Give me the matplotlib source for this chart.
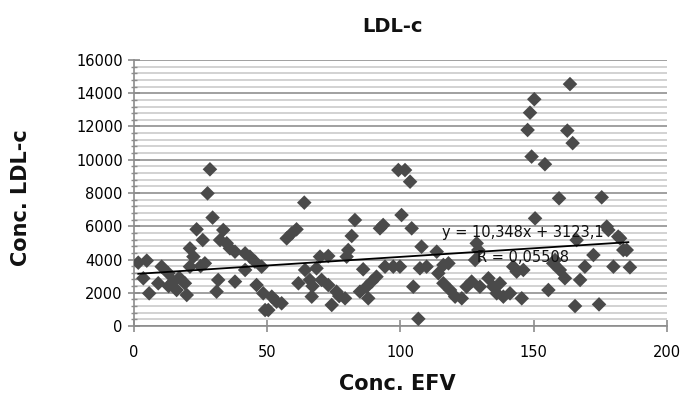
import matplotlib
matplotlib.use("Agg")
import matplotlib.pyplot as plt
from matplotlib.ticker import MultipleLocator

plt.rcParams['font.family'] = ['DejaVu Sans']

efv = [1.6, 4.8, 3.5, 5.7, 10.4, 9.1, 12.9, 14.8, 16, 19.1, 19.8, 21, 22.3, 21, 23.5, 25.8,
       26.6, 27.6, 28.5, 29.5, 31.6, 31, 33.5, 32.3, 34.8, 36, 37.9, 37.9, 41.7, 43.5, 41.7,
       45.4, 47.9, 46, 48.5, 49.2, 25, 13, 17,
       51.7, 50.4, 55.4, 53.5, 57.3, 59.2, 61.0, 63.9, 61.7, 64.2, 66, 66.7, 68.5, 69.8, 70.4,
       72.9, 72.9, 74.2, 76, 79.2, 79.8, 80.4, 81.7, 82.9, 84.8, 86, 87.3, 87.9, 89.2, 91,
       92.3, 93.5, 94.2, 97.3, 99.2, 100.4, 67, 77,
       101.7, 103.6, 104.2, 107.9, 113.6, 99.8, 107.3, 109.8, 104.8, 106.7, 116.1, 118, 114.2,
       116.1, 118.6, 120.5, 123, 124.8, 126.7, 128.6, 129.2, 128, 129.8, 133, 134.8, 137.3,
       136.1, 138.6, 141.1, 145.5, 142.3, 146.1, 143.6, 150.5,
       148.6, 150.2, 147.7, 163.6, 162.6, 164.6, 149.2, 154.2,
       159.5, 175.5, 177.4, 182.4, 184.9, 186.1, 179.9, 172.4, 169.2, 167.4, 166.1, 161.7,
       159.8, 157.3, 155.5, 165.5, 174.5, 158, 181.7, 178, 183.6]
ldl = [3810, 3930, 2870, 1965, 3570, 2570, 3170, 2670, 2165, 2570, 1865, 4670, 4170, 3570,
       5815, 5170, 3770, 7980, 9425, 6520, 2770, 2065, 5775, 5170, 4975, 4670, 4470, 2670,
       4370, 4170, 3370, 3870, 3570, 2465, 1965, 960, 3600, 2400, 2900,
       1765, 960, 1365, 1465, 5270, 5575, 5815, 7420, 2570, 3370, 2770, 1765, 3470, 4170,
       2770, 4210, 2465, 1265, 2065, 1665, 4170, 4570, 5415, 6375, 2065, 3410, 2365, 1665,
       2670, 2965, 5875, 6075, 3570, 3570, 9380, 6675, 2400, 1800,
       9380, 8680, 5875, 4770, 4470, 3570, 3470, 3570, 2365, 430, 3670, 3770, 3170, 2570,
       2165, 1765, 1665, 2365, 2670, 4975, 4570, 3970, 2365, 2870, 2365, 2570, 1965, 1765,
       1965, 1665, 3570, 3370, 3270, 6475,
       12830, 13640, 11790, 14550, 11750, 11000, 10190, 9730,
       7680, 7740, 5975, 5275, 4570, 3530, 3570, 4270, 3570, 2770, 5170, 2870, 3370, 3770,
       2165, 1200, 1300, 3970, 5375, 5775, 4570]

slope = 10.348
intercept = 3123.1
trend_x = [1.6, 185.5]
eq_label = "y = 10,348x + 3123,1"
r_label = "R = 0,05508"

fig = plt.figure(figsize=(6.85, 4.0), dpi=100)
ax = fig.add_axes([0.1956, 0.185, 0.7781, 0.665])

ax.set_xlim(0, 200)
ax.set_ylim(0, 16000)
ax.yaxis.set_major_locator(MultipleLocator(2000))
ax.yaxis.set_minor_locator(MultipleLocator(400))
ax.xaxis.set_major_locator(MultipleLocator(50))

ax.grid(True, which='major', axis='y', color='#a0a0a0', linewidth=1.4, zorder=0)
ax.grid(True, which='minor', axis='y', color='#cfcfcf', linewidth=1.3, zorder=0)
ax.set_axisbelow(True)

for s in ['top', 'right']:
    ax.spines[s].set_visible(False)
for s in ['left', 'bottom']:
    ax.spines[s].set_color('#8c8c8c')
    ax.spines[s].set_linewidth(1.2)

ax.tick_params(axis='both', which='major', direction='inout', length=8, width=1.2,
               color='#8c8c8c', labelsize=10.5, labelcolor='#000000')
ax.tick_params(axis='y', which='minor', direction='inout', length=4, width=1.0, color='#8c8c8c')
ax.tick_params(axis='x', pad=10)
ax.tick_params(axis='y', pad=4)

ax.scatter(efv, ldl, marker='D', s=55, color='#4a4a4a', edgecolors='none', zorder=3)

ty = [slope * x + intercept for x in trend_x]
ax.plot(trend_x, ty, color='black', linewidth=1.3, zorder=4)

ax.text(146, 5600, eq_label, ha='center', va='center', fontsize=10.5, color='#111111', zorder=5)
ax.text(146, 4150, r_label, ha='center', va='center', fontsize=10.5, color='#111111', zorder=5)

fig.text(0.573, 0.935, "LDL-c", ha='center', va='center', fontsize=14, fontweight='bold', color='#111111')
fig.text(0.58, 0.04, "Conc. EFV", ha='center', va='center', fontsize=15, fontweight='bold', color='#111111')
fig.text(0.03, 0.505, "Conc. LDL-c", ha='center', va='center', rotation=90, fontsize=15, fontweight='bold', color='#111111')

fig.savefig("out.png", dpi=100)
